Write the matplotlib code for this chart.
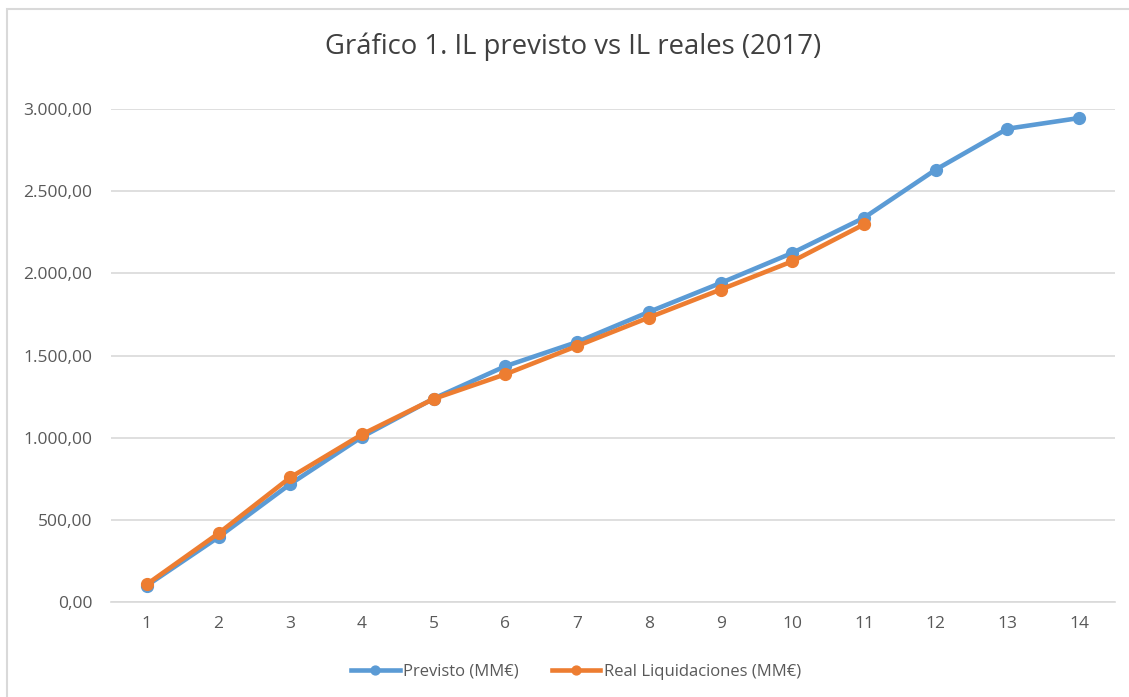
import matplotlib.pyplot as plt
from matplotlib.patches import Rectangle
from matplotlib.ticker import FuncFormatter

plt.rcParams['font.family'] = ['Open Sans', 'DejaVu Sans']

# data
periods = list(range(1, 15))
previsto = [100, 395, 718, 1005, 1238, 1435, 1582, 1765, 1941, 2124, 2338, 2631, 2880, 2945]
real = [108, 418, 758, 1020, 1236, 1386, 1558, 1731, 1901, 2073, 2298]
title = "Gráfico 1. IL previsto vs IL reales (2017)"
labels = ["Previsto (MM€)", "Real Liquidaciones (MM€)"]

BLUE = "#5B9BD5"
ORANGE = "#ED7D31"
GRID = "#D9D9D9"
TEXT = "#595959"


def es_format(v, _pos):
    """Spanish number format: 3.000,00"""
    s = f"{v:,.2f}"
    return s.replace(",", "X").replace(".", ",").replace("X", ".")


fig = plt.figure(figsize=(11.29, 6.97), dpi=100)
ax = fig.add_axes([111 / 1129, 1 - 602 / 697, (1115 - 111) / 1129, (602 - 109) / 697])

ax.plot(periods, previsto, "-o", color=BLUE, lw=3.3, ms=8.5, label=labels[0],
        clip_on=False, zorder=3)
ax.plot(periods[:len(real)], real, "-o", color=ORANGE, lw=3.3, ms=8.5, label=labels[1],
        clip_on=False, zorder=4)

ax.set_xlim(0.5, 14.5)
ax.set_ylim(0, 3000)
ax.set_xticks(periods)
ax.set_yticks(range(0, 3001, 500))
ax.yaxis.set_major_formatter(FuncFormatter(es_format))
ax.grid(axis="y", color=GRID, lw=1.2)
ax.set_axisbelow(True)
for side in ["top", "right", "left"]:
    ax.spines[side].set_visible(False)
ax.spines["bottom"].set_color(GRID)
ax.spines["bottom"].set_linewidth(1.2)
ax.tick_params(length=0, labelsize=12.5, colors=TEXT)
ax.tick_params(axis="y", pad=13.5)
ax.tick_params(axis="x", pad=10)

fig.text(573 / 1129, 1 - 47 / 697, title, ha="center", va="center",
         fontsize=19.8, color="#404040")

fig.legend(loc="center", bbox_to_anchor=(576 / 1129, 1 - 672 / 697), ncol=2,
           frameon=False, fontsize=12, labelcolor=TEXT, handlelength=2.9,
           handletextpad=0.2, columnspacing=2.0, markerscale=0.75)

# light chart border
fig.add_artist(Rectangle((7 / 1129, -0.01), 1.02, 1 - 9 / 697 + 0.01,
                         transform=fig.transFigure, fill=False,
                         edgecolor=GRID, lw=1.5))

fig.savefig("out.png", dpi=100)
